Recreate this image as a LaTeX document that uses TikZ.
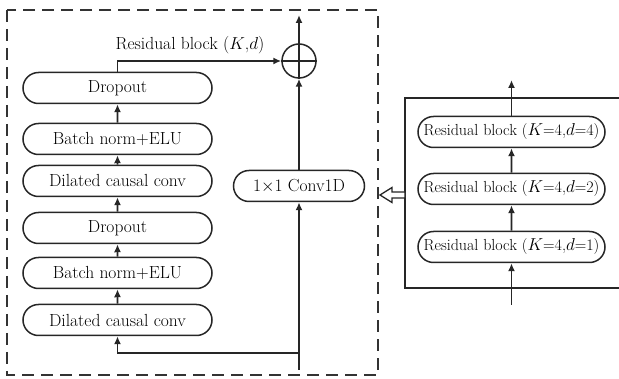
\documentclass[tikz,border=0pt]{standalone}
\usetikzlibrary{arrows.meta,shapes.misc}
\begin{document}
\begin{tikzpicture}[x=1pt,y=-1pt,
  ln/.style={line width=1.6pt,draw=black!85},
  arr/.style={ln,-{Latex[length=8pt,width=7pt]}},
  txt/.style={font=\fontsize{17.5}{19}\selectfont},
  rtxt/.style={font=\fontsize{16}{18}\selectfont},
  blk/.style={rounded rectangle,draw=black!85,line width=1.5pt,minimum width=189pt,minimum height=31pt,inner sep=0pt,txt},
  rblk/.style={blk,minimum width=187pt,rtxt}]
\useasboundingbox (0,0) rectangle (619,379);
% dashed frame
\draw[line width=1.6pt,draw=black!80,dash pattern=on 12pt off 7pt] (7,10) rectangle (378,375);
% left column
\node[blk] (dc1) at (117.5,320) {Dilated causal conv};
\node[blk] (bn1) at (117.5,273) {Batch norm+ELU};
\node[blk] (do1) at (117.5,228) {Dropout};
\node[blk] (dc2) at (117.5,181) {Dilated causal conv};
\node[blk] (bn2) at (117.5,139) {Batch norm+ELU};
\node[blk] (do2) at (117.5,88) {Dropout};
\node[blk,minimum width=131pt] (conv) at (299,186) {1$\times$1 Conv1D};
\node[circle,draw=black!85,line width=1.5pt,minimum size=34pt,inner sep=0pt] (sum) at (299,61) {};
\draw[ln] (sum.north) -- (sum.south) (sum.west) -- (sum.east);
\coordinate (in) at (299,370);
\coordinate (out) at (299,15);
\coordinate (split) at (299,353);
\coordinate (turn) at (117.5,61);
\draw[arr] (in) -- (conv.south);
\draw[arr] (split) -| (dc1.south);
\draw[arr] (dc1) -- (bn1);
\draw[arr] (bn1) -- (do1);
\draw[arr] (do1) -- (dc2);
\draw[arr] (dc2) -- (bn2);
\draw[arr] (bn2) -- (do2);
\draw[arr] (conv.north) -- (sum.south);
\draw[arr] (do2.north) -- (turn) -- (sum.west);
\draw[arr] (sum.north) -- (out);
\node[txt] (lab) at (190,45) {Residual block ($K$,$d$)};
% right box
\coordinate (rtl) at (405,98);
\coordinate (rbl) at (405,288);
\draw[ln] (619,98) -- (rtl) -- (rbl) -- (619,288);
\node[rblk] (r1) at (511.5,247) {Residual block ($K$=4,$d$=1)};
\node[rblk] (r2) at (511.5,189) {Residual block ($K$=4,$d$=2)};
\node[rblk] (r3) at (511.5,132) {Residual block ($K$=4,$d$=4)};
\coordinate (rin) at (511.5,305);
\coordinate (rout) at (511.5,80);
\draw[arr] (rin) -- (r1.south);
\draw[arr] (r1) -- (r2);
\draw[arr] (r2) -- (r3);
\draw[arr] (r3.north) -- (rout);
% hollow arrow
\draw[line width=1.3pt,draw=black!85,fill=white,line join=miter] (405,192) -- (392,192) -- (392,187.5) -- (380,195) -- (392,202.5) -- (392,198) -- (405,198) -- cycle;
\end{tikzpicture}
\end{document}
